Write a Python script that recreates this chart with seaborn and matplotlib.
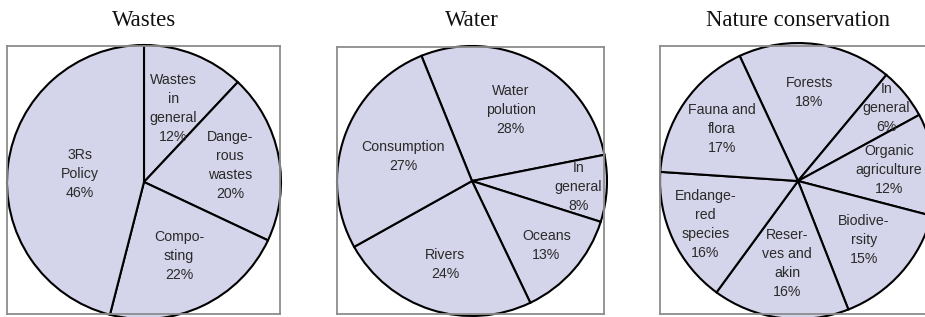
import matplotlib
matplotlib.use("Agg")
import numpy as np
import matplotlib.pyplot as plt
import seaborn as sns

####################################################################################
## DATA
####################################################################################
titles = ["Wastes", "Water", "Nature conservation"]

wastes_labels = ["Wastes\nin\ngeneral", "Dange-\nrous\nwastes", "Compo-\nsting", "3Rs\nPolicy"]
wastes_values = [12, 20, 22, 46]

water_labels = ["Water\npolution", "In\ngeneral", "Oceans", "Rivers", "Consumption"]
water_values = [28, 8, 13, 24, 27]

nature_labels = ["Forests", "In\ngeneral", "Organic\nagriculture", "Biodive-\nrsity",
                 "Reser-\nves and\nakin", "Endange-\nred\nspecies", "Fauna and\nflora"]
nature_values = [18, 6, 12, 15, 16, 16, 17]

####################################################################################
## LAYOUT (figure pixels, y from top)
####################################################################################
W, H = 925, 317
panels = [
    # box (left, top, right, bottom), pie centre, radius, start angle, label radii
    dict(box=(7, 46, 280, 314), c=(144, 182), r=137, start=90,
         lr=[0.58, 0.64, 0.6, 0.47]),
    dict(box=(337, 47, 604, 314), c=(472, 181), r=135, start=112,
         lr=[0.6, 0.79, 0.73, 0.65, 0.54]),
    dict(box=(660, 46, 938, 314), c=(798, 181), r=138, start=115,
         lr=[0.65, 0.83, 0.665, 0.64, 0.6, 0.74, 0.67]),
]
series = [(wastes_labels, wastes_values), (water_labels, water_values),
          (nature_labels, nature_values)]

fill = "#d4d4ea"

sns.set_style("white")
plt.rcParams["font.family"] = ["Liberation Sans", "DejaVu Sans"]

fig = plt.figure(figsize=(W / 100, H / 100), dpi=100)

for title, p, (labs, vals) in zip(titles, panels, series):
    l, t, r, b = p["box"]
    ax = fig.add_axes([l / W, (H - b) / H, (r - l) / W, (b - t) / H])
    cx, cy = p["c"][0], H - p["c"][1]
    wedges, _ = ax.pie(vals, startangle=p["start"], counterclock=False,
                       colors=[fill] * len(vals), center=(cx, cy), radius=p["r"],
                       frame=True,
                       wedgeprops=dict(edgecolor="black", linewidth=1.5, clip_on=False))
    ax.set_xlim(l, r)
    ax.set_ylim(H - b, H - t)
    ax.set_aspect("auto")
    ax.set_xticks([])
    ax.set_yticks([])
    for s in ax.spines.values():
        s.set_color("#8c8c8c")
        s.set_linewidth(1.3)

    # labels sit along each wedge's middle angle
    for w, name, v, k in zip(wedges, labs, vals, p["lr"]):
        mid = np.deg2rad((w.theta1 + w.theta2) / 2)
        ax.text(cx + k * p["r"] * np.cos(mid), cy + k * p["r"] * np.sin(mid),
                f"{name}\n{v}%", ha="center", va="center", fontsize=10.2,
                color="#2a2a2a", linespacing=1.45, clip_on=False)

    fig.text(p["c"][0] / W, (H - 26) / H, title, ha="center", va="baseline",
             fontsize=16.4, family="Liberation Serif", color="#111111")

fig.savefig("out.png", dpi=100)
